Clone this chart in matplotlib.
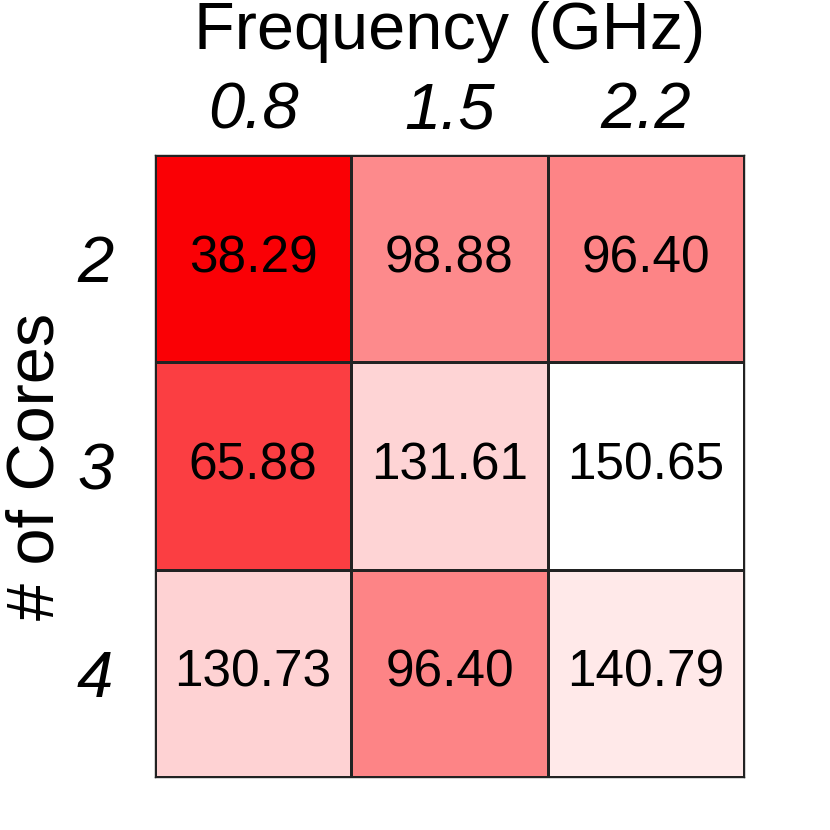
import numpy as np
import matplotlib.pyplot as plt
from matplotlib.colors import LinearSegmentedColormap

plt.rcParams['font.family'] = ['Liberation Sans', 'DejaVu Sans']

freqs = ['0.8', '1.5', '2.2']
cores = ['2', '3', '4']
values = np.array([
    [38.29, 98.88, 96.40],
    [65.88, 131.61, 150.65],
    [130.73, 96.40, 140.79],
])

cmap = LinearSegmentedColormap.from_list('wr', ['#fa0005', '#ffffff'])

fig = plt.figure(figsize=(8.3, 8.3), dpi=100)
ax = fig.add_axes([0.1867, 0.0639, 0.7097, 0.7494])

ax.pcolormesh(values, cmap=cmap, vmin=values.min(), vmax=values.max(),
              edgecolors='#222222', linewidth=1)
ax.set_xlim(0, 3)
ax.set_ylim(3, 0)

for i in range(3):
    for j in range(3):
        ax.text(j + 0.5, i + 0.5, '%.2f' % values[i, j], ha='center', va='center',
                fontsize=37, color='black')

ax.xaxis.tick_top()
ax.xaxis.set_label_position('top')
ax.set_xticks(np.arange(3) + 0.5)
ax.set_xticklabels(freqs, fontsize=47, style='italic')
ax.set_yticks(np.arange(3) + 0.5)
ax.set_yticklabels(cores, fontsize=47, style='italic')
ax.tick_params(axis='x', length=0, pad=10)
ax.tick_params(axis='y', length=0, pad=30)
ax.set_xlabel('Frequency (GHz)', fontsize=48, labelpad=23)
ax.set_ylabel('# of Cores', fontsize=48, labelpad=7)
for s in ax.spines.values():
    s.set_color('#222222')
    s.set_linewidth(1)

fig.savefig('out.png', dpi=100)
